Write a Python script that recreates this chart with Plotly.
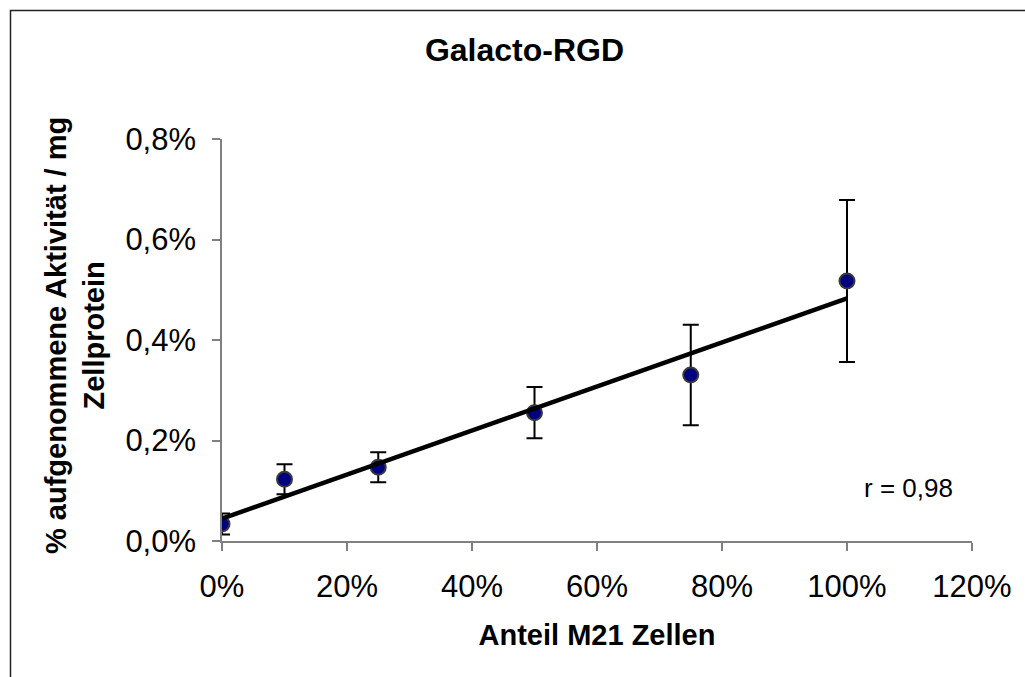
import numpy as np
import plotly.graph_objects as go

# Data (fractions; displayed as percentages)
anteil_m21 = [0.0, 0.10, 0.25, 0.50, 0.75, 1.00]
aktivitaet = [0.000338, 0.001228, 0.001467, 0.002553, 0.003303, 0.005174]
fehler = [0.00021, 0.00030, 0.00030, 0.00051, 0.00100, 0.00161]
r_text = "r = 0,98"
title_text = "Galacto-RGD"
x_title = "Anteil M21 Zellen"
y_title = "% aufgenommene Aktivität / mg<br>Zellprotein"

# Linear trendline fitted from the data
slope, intercept = np.polyfit(anteil_m21, aktivitaet, 1)
trend_x = [min(anteil_m21), max(anteil_m21)]
trend_y = [slope * v + intercept for v in trend_x]

FONT = "Arial, 'Liberation Sans', sans-serif"

# Plot area in pixels
W, H = 1025, 677
L, R, T, B = 222, 53, 139, 136
pw, ph = W - L - R, H - T - B

def px_x(px):
    return (px - L) / pw

def px_y(py):
    return (H - B - py) / ph

fig = go.Figure()
fig.add_trace(go.Scatter(
    x=anteil_m21, y=aktivitaet, mode="markers",
    marker=dict(size=15, color="#000080", line=dict(color="#3a3a3a", width=2)),
    error_y=dict(type="data", array=fehler, visible=True, color="black",
                 thickness=2, width=8),
    showlegend=False,
))
fig.add_trace(go.Scatter(
    x=trend_x, y=trend_y, mode="lines",
    line=dict(color="black", width=4.5), showlegend=False,
))

fig.update_layout(
    width=W, height=H,
    margin=dict(l=L, r=R, t=T, b=B),
    paper_bgcolor="white", plot_bgcolor="white",
    separators=",.",
    font=dict(family=FONT, color="black"),
    title=dict(text="<b>" + title_text + "</b>", font=dict(size=32, family=FONT, color="black"),
               xref="container", x=524.5 / W, xanchor="center",
               yref="container", y=1 - 50 / H, yanchor="middle"),
    xaxis=dict(range=[0, 1.2], dtick=0.2, tick0=0, tickformat=".0%",
               showgrid=False, zeroline=False, showline=True, linecolor="#808080", linewidth=1.5,
               ticks="outside", ticklen=8, tickwidth=1.5, tickcolor="#808080",
               tickfont=dict(size=31, family=FONT, color="black"),
               ticklabelstandoff=9,
               title=dict(text="<b>" + x_title + "</b>", font=dict(size=29, family=FONT, color="black"),
                          standoff=22)),
    yaxis=dict(range=[0, 0.008], dtick=0.002, tick0=0, tickformat=".1%",
               showgrid=False, zeroline=False, showline=True, linecolor="#808080", linewidth=1.5,
               ticks="outside", ticklen=8, tickwidth=1.5, tickcolor="#808080",
               tickfont=dict(size=31, family=FONT, color="black"),
               ticklabelstandoff=10),
    annotations=[
        dict(text="<b>" + y_title + "</b>", xref="paper", yref="paper",
             x=px_x(75), y=px_y(336), xanchor="center", yanchor="middle",
             textangle=-90, showarrow=False,
             font=dict(size=29, family=FONT, color="black")),
        dict(text=r_text, xref="paper", yref="paper",
             x=px_x(908), y=px_y(488), xanchor="center", yanchor="middle",
             showarrow=False, font=dict(size=26, family=FONT, color="black")),
    ],
    shapes=[
        dict(type="rect", xref="paper", yref="paper",
             x0=px_x(10.5), x1=px_x(1040), y0=px_y(10.5), y1=px_y(700),
             line=dict(color="#222222", width=1.5), fillcolor="rgba(0,0,0,0)", layer="below"),
    ],
)

fig.write_html("out.html")
